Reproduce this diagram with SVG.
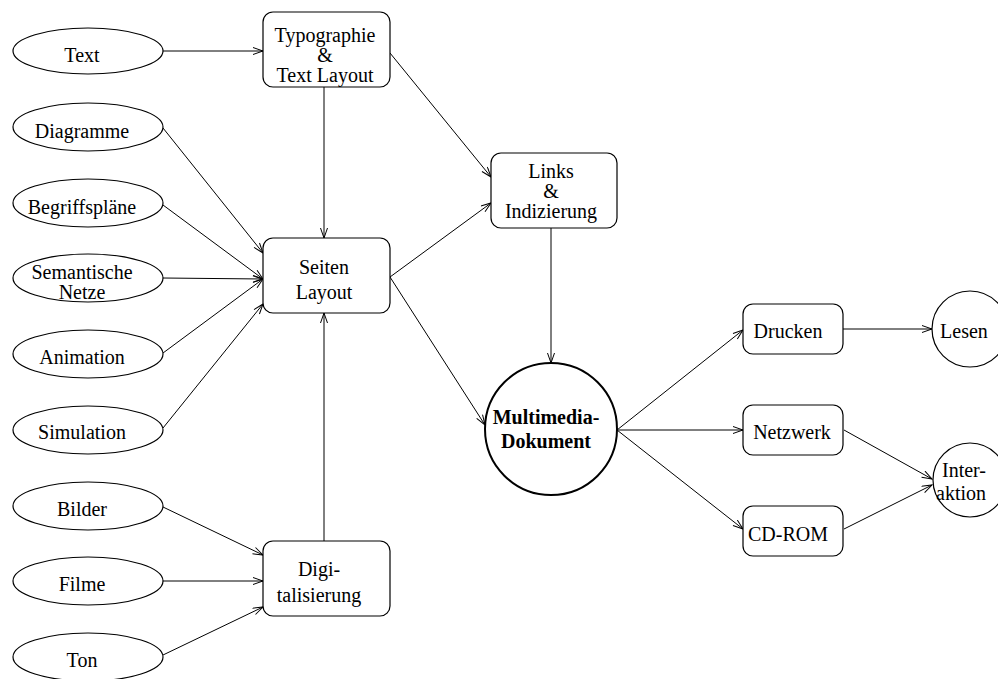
<svg xmlns="http://www.w3.org/2000/svg" width="998" height="679" viewBox="0 0 998 679">
  <defs>
    <marker id="arrow" markerUnits="userSpaceOnUse" markerWidth="12" markerHeight="10" refX="11" refY="4" orient="auto">
      <path d="M1,0.5 L11,4 L1,7.5" fill="none" stroke="#000" stroke-width="1"/>
    </marker>
    <style>
      .shape { fill: #fff; stroke: #000; stroke-width: 1.2; }
      .bold-shape { fill: #fff; stroke: #000; stroke-width: 2; }
      .label { font-family: "Liberation Serif", "Times New Roman", serif; font-size: 20px; fill: #000; text-anchor: middle; }
      .strong { font-weight: bold; }
      .edge { stroke: #000; stroke-width: 1; fill: none; marker-end: url(#arrow); }
    </style>
  </defs>
  <rect width="998" height="679" fill="#fff"/>

  <!-- connectors -->
  <g id="connectors">
    <line class="edge" x1="163" y1="51" x2="263" y2="51"/>
    <line class="edge" x1="390" y1="53" x2="491" y2="177"/>
    <line class="edge" x1="324" y1="87" x2="324" y2="238"/>
    <line class="edge" x1="324" y1="541" x2="324" y2="313"/>
    <line class="edge" x1="163" y1="128" x2="263" y2="253"/>
    <line class="edge" x1="163" y1="205" x2="263" y2="279"/>
    <line class="edge" x1="163" y1="278" x2="263" y2="279"/>
    <line class="edge" x1="163" y1="353" x2="263" y2="279"/>
    <line class="edge" x1="163" y1="428" x2="263" y2="304"/>
    <line class="edge" x1="163" y1="507" x2="263" y2="555"/>
    <line class="edge" x1="163" y1="581" x2="263" y2="581"/>
    <line class="edge" x1="163" y1="655" x2="263" y2="607"/>
    <line class="edge" x1="390" y1="277" x2="491" y2="203"/>
    <line class="edge" x1="390" y1="277" x2="485" y2="425"/>
    <line class="edge" x1="551" y1="228" x2="551" y2="363"/>
    <line class="edge" x1="617" y1="430" x2="743" y2="330"/>
    <line class="edge" x1="617" y1="430" x2="743" y2="430"/>
    <line class="edge" x1="617" y1="430" x2="743" y2="529"/>
    <line class="edge" x1="843" y1="329" x2="932" y2="329"/>
    <line class="edge" x1="844" y1="430" x2="932" y2="479"/>
    <line class="edge" x1="844" y1="529" x2="932" y2="485"/>
  </g>

  <!-- source media -->
  <g id="n-text">
    <ellipse class="shape" cx="88" cy="51" rx="75" ry="23"/>
    <text class="label" x="82" y="62">Text</text>
  </g>
  <g id="n-diagramme">
    <ellipse class="shape" cx="88" cy="127" rx="75" ry="24"/>
    <text class="label" x="82" y="138">Diagramme</text>
  </g>
  <g id="n-begriffsplaene">
    <ellipse class="shape" cx="88" cy="203" rx="75" ry="24"/>
    <text class="label" x="82" y="214">Begriffspläne</text>
  </g>
  <g id="n-semantische-netze">
    <ellipse class="shape" cx="88" cy="278" rx="75" ry="24"/>
    <text class="label" x="82" y="279">Semantische</text>
    <text class="label" x="82" y="299">Netze</text>
  </g>
  <g id="n-animation">
    <ellipse class="shape" cx="88" cy="354" rx="75" ry="24"/>
    <text class="label" x="82" y="364">Animation</text>
  </g>
  <g id="n-simulation">
    <ellipse class="shape" cx="88" cy="430" rx="75" ry="24"/>
    <text class="label" x="82" y="439">Simulation</text>
  </g>
  <g id="n-bilder">
    <ellipse class="shape" cx="88" cy="506" rx="75" ry="24"/>
    <text class="label" x="82" y="516">Bilder</text>
  </g>
  <g id="n-filme">
    <ellipse class="shape" cx="88" cy="581" rx="75" ry="24"/>
    <text class="label" x="82" y="591">Filme</text>
  </g>
  <g id="n-ton">
    <ellipse class="shape" cx="88" cy="657" rx="75" ry="24"/>
    <text class="label" x="82" y="667">Ton</text>
  </g>

  <!-- processing steps -->
  <g id="n-typographie">
    <rect class="shape" x="263" y="12" width="127" height="75" rx="10"/>
    <text class="label" x="325" y="42">Typographie</text>
    <text class="label" x="325" y="62">&amp;</text>
    <text class="label" x="325" y="82">Text Layout</text>
  </g>
  <g id="n-seiten-layout">
    <rect class="shape" x="263" y="238" width="127" height="75" rx="10"/>
    <text class="label" x="324" y="274">Seiten</text>
    <text class="label" x="324" y="299">Layout</text>
  </g>
  <g id="n-digitalisierung">
    <rect class="shape" x="263" y="541" width="127" height="75" rx="10"/>
    <text class="label" x="319" y="576">Digi-</text>
    <text class="label" x="319" y="602">talisierung</text>
  </g>
  <g id="n-links">
    <rect class="shape" x="491" y="153" width="126" height="75" rx="10"/>
    <text class="label" x="551" y="178">Links</text>
    <text class="label" x="551" y="198">&amp;</text>
    <text class="label" x="551" y="218">Indizierung</text>
  </g>

  <!-- document -->
  <g id="n-multimedia-dokument">
    <circle class="bold-shape" cx="551" cy="429" r="66"/>
    <text class="label strong" x="546" y="424">Multimedia-</text>
    <text class="label strong" x="546" y="448">Dokument</text>
  </g>

  <!-- distribution -->
  <g id="n-drucken">
    <rect class="shape" x="743" y="304" width="100" height="50" rx="10"/>
    <text class="label" x="788" y="338">Drucken</text>
  </g>
  <g id="n-netzwerk">
    <rect class="shape" x="743" y="405" width="100" height="50" rx="10"/>
    <text class="label" x="792" y="439">Netzwerk</text>
  </g>
  <g id="n-cdrom">
    <rect class="shape" x="743" y="506" width="100" height="50" rx="10"/>
    <text class="label" x="788" y="541">CD-ROM</text>
  </g>

  <!-- usage -->
  <g id="n-lesen">
    <circle class="shape" cx="970" cy="329" r="38"/>
    <text class="label" x="964" y="338">Lesen</text>
  </g>
  <g id="n-interaktion">
    <circle class="shape" cx="970" cy="480" r="37"/>
    <text class="label" x="964" y="477">Inter-</text>
    <text class="label" x="961" y="500">aktion</text>
  </g>
</svg>
